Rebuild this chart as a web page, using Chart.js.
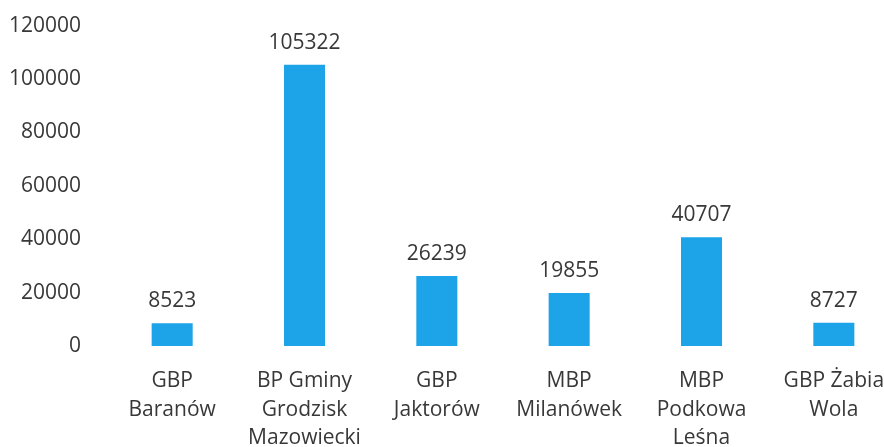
<!DOCTYPE html>
<html>
<head>
<meta charset="utf-8">
<script src="https://cdn.jsdelivr.net/npm/chart.js@4"></script>
<style>
  html, body { margin: 0; padding: 0; background: #ffffff; overflow: hidden; width: 884px; height: 447px; }
  #wrap { position: absolute; left: 0; top: 0; width: 884px; height: 447px; overflow: hidden; }
  #c { position: absolute; left: 0; top: -12px; }
</style>
</head>
<body>
<div id="wrap"><canvas id="c" width="920" height="459"></canvas></div>
<script>
const categories = [
  ["GBP", "Baranów"],
  ["BP Gminy", "Grodzisk", "Mazowiecki"],
  ["GBP", "Jaktorów"],
  ["MBP", "Milanówek"],
  ["MBP", "Podkowa", "Leśna"],
  ["GBP Żabia", "Wola"]
];
const values = [8523, 105322, 26239, 19855, 40707, 8727];
const yTicks = [0, 20000, 40000, 60000, 80000, 100000, 120000];

const FONT = "'Open Sans', 'Noto Sans', sans-serif";
const TEXT = "#383838";

const valueLabels = {
  id: 'valueLabels',
  afterDatasetsDraw(chart) {
    const ctx = chart.ctx;
    const meta = chart.getDatasetMeta(0);
    ctx.save();
    ctx.font = "21px " + FONT;
    ctx.fillStyle = TEXT;
    ctx.textAlign = 'center';
    ctx.textBaseline = 'alphabetic';
    meta.data.forEach((bar, i) => {
      ctx.fillText(String(chart.data.datasets[0].data[i]), bar.x, bar.y - 16);
    });
    ctx.restore();
  }
};

new Chart(document.getElementById('c'), {
  type: 'bar',
  data: {
    labels: categories,
    datasets: [{
      data: values,
      backgroundColor: '#1ca3e8',
      borderWidth: 0,
      barPercentage: 0.62,
      categoryPercentage: 0.5
    }]
  },
  options: {
    responsive: false,
    animation: false,
    devicePixelRatio: 1,
    layout: { padding: { left: 8, right: 20, top: 0, bottom: 0 } },
    plugins: { legend: { display: false }, tooltip: { enabled: false } },
    scales: {
      y: {
        min: 0, max: 120000,
        afterBuildTicks(scale) { scale.ticks = yTicks.map(v => ({ value: v })); },
        afterFit(scale) { scale.width = 98; },
        grid: { display: false, drawTicks: false },
        border: { display: false },
        ticks: { color: TEXT, font: { family: FONT, size: 21 }, padding: 25, callback: v => String(v) }
      },
      x: {
        afterFit(scale) { scale.height = 101; },
        grid: { display: false, drawTicks: false },
        border: { display: false },
        ticks: { color: TEXT, font: { family: FONT, size: 21, lineHeight: 1.36 }, padding: 21, maxRotation: 0, autoSkip: false }
      }
    }
  },
  plugins: [valueLabels]
});
</script>
</body>
</html>
